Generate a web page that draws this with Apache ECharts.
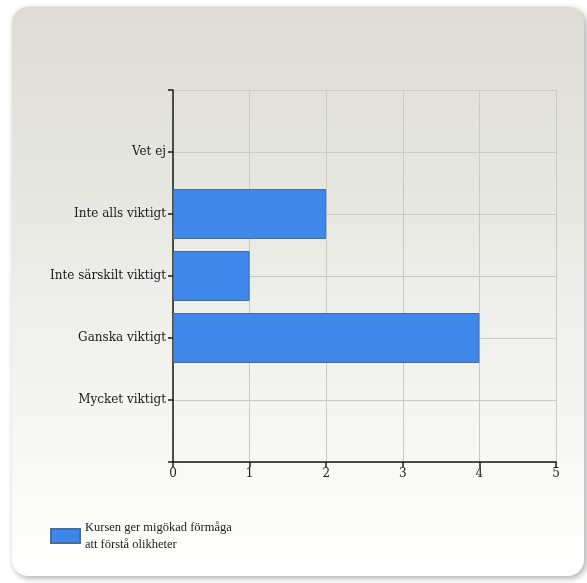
<!DOCTYPE html>
<html>
<head>
<meta charset="utf-8">
<script src="https://cdn.jsdelivr.net/npm/echarts@6/dist/echarts.min.js"></script>
<style>
html,body{margin:0;padding:0;background:#ffffff;}
#chart{width:587px;height:583px;}
</style>
</head>
<body>
<div id="chart"></div>
<script>
// Categories listed bottom to top
var categories = ['Mycket viktigt', 'Ganska viktigt', 'Inte särskilt viktigt', 'Inte alls viktigt', 'Vet ej'];
var values = [0, 4, 1, 2, 0];
var seriesName = 'Kursen ger migökad förmåga\natt förstå olikheter';
var xTicks = [0, 1, 2, 3, 4, 5];

var cats = [''].concat(categories).concat(['']);
var vals = [null].concat(values.map(function (v) {
  return v === 0 ? {value: 0, itemStyle: {borderWidth: 0, opacity: 0}} : v;
})).concat([null]);

var chart = echarts.init(document.getElementById('chart'));
var fontFam = '"DejaVu Serif", "Liberation Serif", serif';
chart.setOption({
  animation: false,
  graphic: [{
    type: 'rect',
    shape: {x: 12, y: 7, width: 572, height: 569, r: 16},
    style: {
      fill: new echarts.graphic.LinearGradient(0, 0, 0, 1, [
        {offset: 0, color: '#dcdcd4'},
        {offset: 1, color: '#ffffff'}
      ]),
      shadowBlur: 6,
      shadowOffsetX: 2,
      shadowOffsetY: 2,
      shadowColor: 'rgba(0,0,0,0.35)'
    },
    z: -10
  }],
  grid: {left: 173, right: 31, top: 90, bottom: 121, containLabel: false},
  legend: {
    left: 45, top: 514,
    orient: 'vertical',
    itemWidth: 29, itemHeight: 14,
    itemGap: 4,
    textStyle: {fontFamily: '"Liberation Serif", serif', fontSize: 12.5, color: '#1a1a1a', lineHeight: 17},
    data: [{name: seriesName, icon: 'rect'}]
  },
  xAxis: {
    type: 'value',
    min: xTicks[0], max: xTicks[xTicks.length - 1], interval: 1,
    axisLine: {show: true, lineStyle: {color: '#1a1a1a', width: 1.5}},
    axisTick: {show: true, length: 5, lineStyle: {color: '#1a1a1a', width: 1.5}},
    axisLabel: {fontFamily: fontFam, fontSize: 12, color: '#1a1a1a', margin: 6},
    splitLine: {show: true, lineStyle: {color: '#c9c9c5', width: 1}}
  },
  yAxis: {
    type: 'category',
    data: cats,
    boundaryGap: false,
    axisLine: {show: true, lineStyle: {color: '#1a1a1a', width: 1.5}},
    axisTick: {show: true, length: 5, lineStyle: {color: '#1a1a1a', width: 1.5}},
    axisLabel: {fontFamily: fontFam, fontSize: 12, color: '#1a1a1a', margin: 7, interval: 0},
    splitLine: {show: true, lineStyle: {color: '#c9c9c5', width: 1}}
  },
  series: [{
    name: seriesName,
    type: 'bar',
    data: vals,
    barWidth: 50,
    itemStyle: {color: '#3f88ea', borderColor: '#4a6c9c', borderWidth: 1}
  }]
});
</script>
</body>
</html>
